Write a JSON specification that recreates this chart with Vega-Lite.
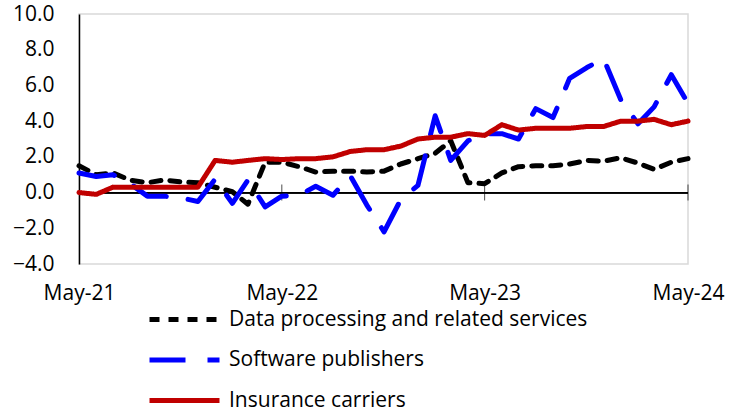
{
  "$schema": "https://vega.github.io/schema/vega-lite/v6.json",
  "width": 609,
  "height": 250,
  "autosize": {"type": "none"},
  "padding": {"left": 79, "top": 14, "right": 51, "bottom": 147},
  "background": "white",
  "config": {
    "view": {"stroke": "#d9d9d9", "strokeWidth": 1.5},
    "font": "Open Sans",
    "axis": {"labelFont": "Open Sans", "labelFontSize": 21, "labelColor": "#000000", "titleFont": "Open Sans", "labelOverlap": false, "labelFlush": false},
    "legend": {"labelFont": "Open Sans", "labelFontSize": 21, "labelColor": "#000000"}
  },
  "datasets": {
    "series": [
      {"date": "2021-05-01", "Data processing and related services": 1.5, "Software publishers": 1.1, "Insurance carriers": 0.0},
      {"date": "2021-06-01", "Data processing and related services": 1.0, "Software publishers": 0.9, "Insurance carriers": -0.1},
      {"date": "2021-07-01", "Data processing and related services": 1.1, "Software publishers": 1.0, "Insurance carriers": 0.3},
      {"date": "2021-08-01", "Data processing and related services": 0.7, "Software publishers": 0.5, "Insurance carriers": 0.3},
      {"date": "2021-09-01", "Data processing and related services": 0.55, "Software publishers": -0.2, "Insurance carriers": 0.3},
      {"date": "2021-10-01", "Data processing and related services": 0.7, "Software publishers": -0.2, "Insurance carriers": 0.3},
      {"date": "2021-11-01", "Data processing and related services": 0.6, "Software publishers": -0.3, "Insurance carriers": 0.3},
      {"date": "2021-12-01", "Data processing and related services": 0.55, "Software publishers": -0.5, "Insurance carriers": 0.3},
      {"date": "2022-01-01", "Data processing and related services": 0.3, "Software publishers": 0.75, "Insurance carriers": 1.8},
      {"date": "2022-02-01", "Data processing and related services": 0.05, "Software publishers": -0.6, "Insurance carriers": 1.7},
      {"date": "2022-03-01", "Data processing and related services": -0.65, "Software publishers": 0.7, "Insurance carriers": 1.8},
      {"date": "2022-04-01", "Data processing and related services": 1.7, "Software publishers": -0.8, "Insurance carriers": 1.9},
      {"date": "2022-05-01", "Data processing and related services": 1.7, "Software publishers": -0.2, "Insurance carriers": 1.85},
      {"date": "2022-06-01", "Data processing and related services": 1.45, "Software publishers": -0.15, "Insurance carriers": 1.9},
      {"date": "2022-07-01", "Data processing and related services": 1.15, "Software publishers": 0.35, "Insurance carriers": 1.9},
      {"date": "2022-08-01", "Data processing and related services": 1.2, "Software publishers": -0.15, "Insurance carriers": 2.0},
      {"date": "2022-09-01", "Data processing and related services": 1.2, "Software publishers": 0.95, "Insurance carriers": 2.3},
      {"date": "2022-10-01", "Data processing and related services": 1.15, "Software publishers": -0.7, "Insurance carriers": 2.4},
      {"date": "2022-11-01", "Data processing and related services": 1.2, "Software publishers": -2.2, "Insurance carriers": 2.4},
      {"date": "2022-12-01", "Data processing and related services": 1.6, "Software publishers": -0.4, "Insurance carriers": 2.6},
      {"date": "2023-01-01", "Data processing and related services": 1.9, "Software publishers": 0.4, "Insurance carriers": 3.0},
      {"date": "2023-02-01", "Data processing and related services": 2.2, "Software publishers": 4.3, "Insurance carriers": 3.1},
      {"date": "2023-03-01", "Data processing and related services": 2.9, "Software publishers": 1.8, "Insurance carriers": 3.1},
      {"date": "2023-04-01", "Data processing and related services": 0.55, "Software publishers": 2.9, "Insurance carriers": 3.3},
      {"date": "2023-05-01", "Data processing and related services": 0.5, "Software publishers": 3.3, "Insurance carriers": 3.2},
      {"date": "2023-06-01", "Data processing and related services": 1.1, "Software publishers": 3.3, "Insurance carriers": 3.8},
      {"date": "2023-07-01", "Data processing and related services": 1.45, "Software publishers": 3.0, "Insurance carriers": 3.5},
      {"date": "2023-08-01", "Data processing and related services": 1.5, "Software publishers": 4.7, "Insurance carriers": 3.6},
      {"date": "2023-09-01", "Data processing and related services": 1.5, "Software publishers": 4.2, "Insurance carriers": 3.6},
      {"date": "2023-10-01", "Data processing and related services": 1.6, "Software publishers": 6.4, "Insurance carriers": 3.6},
      {"date": "2023-11-01", "Data processing and related services": 1.8, "Software publishers": 7.0, "Insurance carriers": 3.7},
      {"date": "2023-12-01", "Data processing and related services": 1.75, "Software publishers": 7.5, "Insurance carriers": 3.7},
      {"date": "2024-01-01", "Data processing and related services": 1.95, "Software publishers": 5.2, "Insurance carriers": 4.0},
      {"date": "2024-02-01", "Data processing and related services": 1.65, "Software publishers": 3.85, "Insurance carriers": 4.0},
      {"date": "2024-03-01", "Data processing and related services": 1.3, "Software publishers": 4.8, "Insurance carriers": 4.1},
      {"date": "2024-04-01", "Data processing and related services": 1.7, "Software publishers": 6.6, "Insurance carriers": 3.8},
      {"date": "2024-05-01", "Data processing and related services": 1.9, "Software publishers": 5.0, "Insurance carriers": 4.0}
    ],
    "years": [
      {"date": "2022-05-01", "zero": 0},
      {"date": "2023-05-01", "zero": 0},
      {"date": "2024-05-01", "zero": 0}
    ]
  },
  "layer": [
    {
      "data": {"name": "series"},
      "mark": {"type": "rule", "color": "#000000", "strokeWidth": 1},
      "encoding": {"y": {"datum": 0, "type": "quantitative"}}
    },
    {
      "data": {"name": "years"},
      "mark": {"type": "tick", "orient": "vertical", "color": "#000000", "size": 16, "thickness": 1},
      "encoding": {
        "x": {"field": "date", "type": "temporal"},
        "y": {"field": "zero", "type": "quantitative"}
      }
    },
    {
      "data": {"name": "series"},
      "transform": [
        {"fold": ["Data processing and related services", "Software publishers", "Insurance carriers"], "as": ["series", "value"]}
      ],
      "mark": {"type": "line", "strokeCap": "round", "strokeJoin": "round"},
      "encoding": {
        "x": {
          "field": "date", "type": "temporal",
          "scale": {"type": "utc", "domain": [{"year": 2021, "month": 5, "date": 1, "utc": true}, {"year": 2024, "month": 5, "date": 1, "utc": true}]},
          "axis": {
            "title": null, "domain": false, "ticks": false, "grid": false, "tickCount": 20,
            "values": [{"year": 2021, "month": 5, "date": 1, "utc": true}, {"year": 2022, "month": 5, "date": 1, "utc": true}, {"year": 2023, "month": 5, "date": 1, "utc": true}, {"year": 2024, "month": 5, "date": 1, "utc": true}],
            "format": "%b-%y", "labelPadding": 18, "labelFlush": false, "labelOverlap": false
          }
        },
        "y": {
          "field": "value", "type": "quantitative",
          "scale": {"domain": [-4, 10], "nice": false, "zero": false},
          "axis": {
            "title": null, "values": [-4, -2, 0, 2, 4, 6, 8, 10], "tickCount": 20, "format": ".1f",
            "domainColor": "#000000", "domainWidth": 1.5, "ticks": false, "labelPadding": 25,
            "labelOverlap": false, "labelFlush": false,
            "gridColor": "#d9d9d9", "gridWidth": 1.5
          }
        },
        "color": {
          "field": "series", "type": "nominal",
          "scale": {"domain": ["Data processing and related services", "Software publishers", "Insurance carriers"], "range": ["#000000", "#0000ff", "#c00000"]},
          "legend": {
            "title": null, "orient": "none", "legendX": 68, "legendY": 295,
            "direction": "vertical", "symbolType": "stroke", "symbolSize": 4900,
            "labelOffset": 7, "rowPadding": 18.5, "labelLimit": 0, "clipHeight": 21
          }
        },
        "strokeDash": {
          "field": "series", "type": "nominal",
          "scale": {"domain": ["Data processing and related services", "Software publishers", "Insurance carriers"], "range": [[10, 9], [36, 22], [1, 0]]},
          "legend": null
        },
        "strokeWidth": {
          "field": "series", "type": "nominal",
          "scale": {"domain": ["Data processing and related services", "Software publishers", "Insurance carriers"], "range": [5, 5, 4]},
          "legend": null
        }
      }
    }
  ]
}
